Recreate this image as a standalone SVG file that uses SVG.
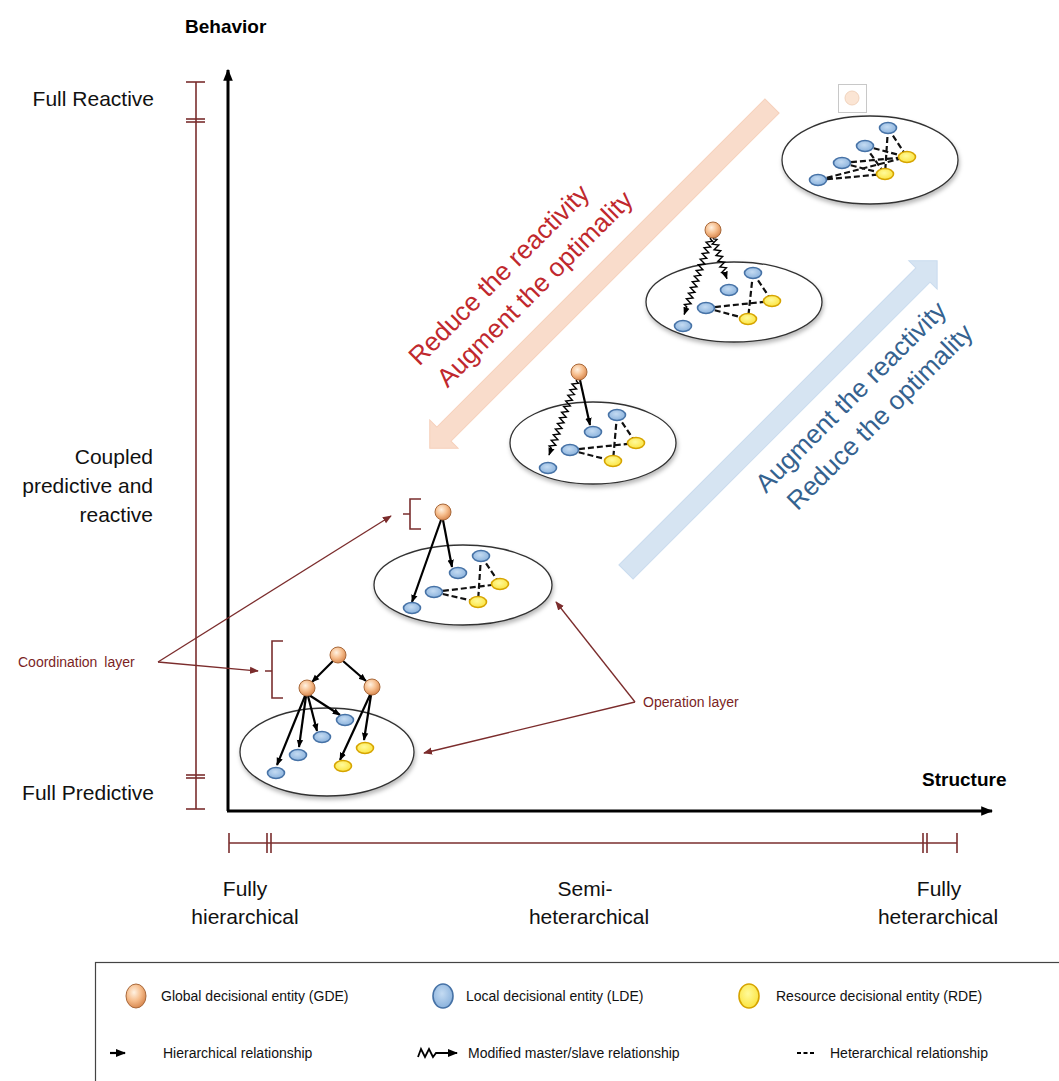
<svg xmlns="http://www.w3.org/2000/svg" width="1059" height="1081" viewBox="0 0 1059 1081">
<style>
.lbl{font-family:"Liberation Sans",Arial,sans-serif;font-size:21px;fill:#111}
.ax{font-family:"Liberation Sans",Arial,sans-serif;font-size:19px;font-weight:bold;fill:#000}
.ann{font-family:"Liberation Sans",Arial,sans-serif;font-size:14px;fill:#7b1f1f}
.leg{font-family:"Liberation Sans",Arial,sans-serif;font-size:14px;fill:#111}
.big{font-family:"Liberation Sans",Arial,sans-serif;font-size:26px}
.scale{stroke:#7a2e2e;stroke-width:1.6;fill:none}
.cont{fill:#fff;stroke:#333;stroke-width:1.3;filter:url(#sh)}
.gde{fill:url(#gGde);stroke:#a8683a;stroke-width:1}
.lde{fill:url(#gLde);stroke:#4672a6;stroke-width:1.6}
.rde{fill:url(#gRde);stroke:#d6a400;stroke-width:1.6}
.hier{stroke:#000;stroke-width:2.2;fill:none;marker-end:url(#ah)}
.wavy{stroke:#000;stroke-width:1.4;fill:none;marker-end:url(#ah)}
.het{stroke:#111;stroke-width:2.2;fill:none;stroke-dasharray:6 3}
.red{stroke:#7b2c2c;stroke-width:1.3;fill:none;marker-end:url(#rh)}
</style>
<defs>
<radialGradient id="gGde" cx="40%" cy="35%" r="65%"><stop offset="0" stop-color="#fff2e2"/><stop offset="0.55" stop-color="#f6bd8c"/><stop offset="1" stop-color="#d98a52"/></radialGradient>
<radialGradient id="gLde" cx="45%" cy="40%" r="65%"><stop offset="0" stop-color="#c4dbf2"/><stop offset="1" stop-color="#86afdb"/></radialGradient>
<radialGradient id="gRde" cx="45%" cy="40%" r="65%"><stop offset="0" stop-color="#fffa9a"/><stop offset="1" stop-color="#fbe23a"/></radialGradient>
<marker id="ah" viewBox="0 0 10 10" refX="9" refY="5" markerWidth="8" markerHeight="8" markerUnits="userSpaceOnUse" orient="auto"><path d="M0,1 L10,5 L0,9 z" fill="#000"/></marker>
<marker id="axh" viewBox="0 0 10 10" refX="9" refY="5" markerWidth="12" markerHeight="12" markerUnits="userSpaceOnUse" orient="auto"><path d="M0,1 L10,5 L0,9 z" fill="#000"/></marker>
<marker id="rh" viewBox="0 0 10 10" refX="9" refY="5" markerWidth="9" markerHeight="9" markerUnits="userSpaceOnUse" orient="auto"><path d="M0,1 L10,5 L0,9 z" fill="#7b2c2c"/></marker>
<marker id="lh" viewBox="0 0 10 10" refX="9" refY="5" markerWidth="10" markerHeight="10" markerUnits="userSpaceOnUse" orient="auto"><path d="M0,1 L10,5 L0,9 z" fill="#000"/></marker>
<filter id="sh" x="-10%" y="-10%" width="125%" height="140%"><feDropShadow dx="1" dy="3" stdDeviation="2" flood-color="#000" flood-opacity="0.28"/></filter>
</defs>
<rect width="1059" height="1081" fill="#fff"/>

<!-- big diagonal arrows -->
<g id="arrow-down">
<path transform="translate(772,106) rotate(135)" d="M0,-10 H464 V-20 L484,0 L464,20 V10 H0 Z" fill="#f9dccb" stroke="#f6d0bb" stroke-width="1"/>
</g>
<g id="arrow-up">
<path transform="translate(626,572) rotate(-45)" d="M0,-10 H420 V-20 L440,0 L420,20 V10 H0 Z" fill="#d6e4f2" stroke="#c9dbee" stroke-width="1"/>
</g>
<g id="arrow-texts" class="big">
<text transform="translate(505,281) rotate(-45)" text-anchor="middle" fill="#c0282d">Reduce the reactivity</text>
<text transform="translate(541,295) rotate(-45)" text-anchor="middle" fill="#c0282d">Augment the optimality</text>
<text transform="translate(857,403) rotate(-45)" text-anchor="middle" fill="#35628f">Augment the reactivity</text>
<text transform="translate(886,423) rotate(-45)" text-anchor="middle" fill="#35628f">Reduce the optimality</text>
</g>

<!-- axes -->
<g id="axes">
<line x1="228" y1="811" x2="228" y2="70" stroke="#000" stroke-width="3" marker-end="url(#axh)"/>
<line x1="227" y1="811" x2="992" y2="811" stroke="#000" stroke-width="3" marker-end="url(#axh)"/>
<text class="ax" x="185" y="33">Behavior</text>
<text class="ax" x="922" y="786">Structure</text>
</g>

<!-- scales -->
<g id="behavior-scale" class="scale">
<line x1="196" y1="82" x2="196" y2="809"/>
<line x1="186" y1="82" x2="205" y2="82"/>
<line x1="186" y1="119" x2="205" y2="119"/>
<line x1="186" y1="122" x2="205" y2="122"/>
<line x1="186" y1="775" x2="205" y2="775"/>
<line x1="186" y1="778" x2="205" y2="778"/>
<line x1="186" y1="809" x2="205" y2="809"/>
</g>
<g id="structure-scale" class="scale">
<line x1="229" y1="843" x2="957" y2="843"/>
<line x1="229" y1="833" x2="229" y2="853"/>
<line x1="267" y1="833" x2="267" y2="853"/>
<line x1="271" y1="833" x2="271" y2="853"/>
<line x1="923" y1="833" x2="923" y2="853"/>
<line x1="927" y1="833" x2="927" y2="853"/>
<line x1="957" y1="833" x2="957" y2="853"/>
</g>
<g id="behavior-labels" class="lbl" text-anchor="end">
<text x="154" y="106">Full Reactive</text>
<text x="153" y="464">Coupled</text>
<text x="153" y="493">predictive and</text>
<text x="153" y="522">reactive</text>
<text x="154" y="800">Full Predictive</text>
</g>
<g id="structure-labels" class="lbl" text-anchor="middle">
<text x="245" y="896">Fully</text>
<text x="245" y="924">hierarchical</text>
<text x="585" y="896">Semi-</text>
<text x="589" y="924">heterarchical</text>
<text x="939" y="896">Fully</text>
<text x="938" y="924">heterarchical</text>
</g>

<!-- containers (operation layer ellipses) -->
<g id="containers">
<ellipse id="cluster1" class="cont" cx="870" cy="160" rx="88" ry="44"/>
<ellipse id="cluster2" class="cont" cx="734" cy="302" rx="88" ry="40"/>
<ellipse id="cluster3" class="cont" cx="593" cy="443" rx="83" ry="41"/>
<ellipse id="cluster4" class="cont" cx="463" cy="585" rx="89" ry="40"/>
<ellipse id="cluster5" class="cont" cx="327" cy="752" rx="87" ry="44"/>
</g>

<!-- faded GDE in box -->
<g id="faded-gde">
<rect x="838.5" y="84.5" width="28" height="28" fill="#fff" stroke="#c8c8c8" stroke-width="1"/>
<circle cx="852" cy="98" r="7" fill="#fbe5d4" stroke="#f1d3bd" stroke-width="1"/>
</g>

<!-- brackets -->
<g id="brackets" class="scale">
<path d="M421,499 H410 V529 H421 M403,514 H410"/>
<path d="M283,641 H272 V698 H283 M265,671 H272"/>
</g>

<!-- connectors -->
<g id="connectors">
<path class="het" d="M888,128 L907,157 M888,128 L885,174 M865,146 L907,157 M865,146 L885,174 M842,163 L907,157 M842,163 L885,174 M818,180 L907,157 M818,180 L885,174"/>
<path class="het" d="M753,273 L772,301 M753,273 L748,319 M706,308 L772,301 M706,308 L748,319"/>
<path class="wavy" transform="translate(713,237) rotate(71.6)" d="M0,0 h2 l1.5,-3 l3,6 l1.5,-3 l1.5,-3 l3,6 l1.5,-3 l1.5,-3 l3,6 l1.5,-3 l1.5,-3 l3,6 l1.5,-3 l1.5,-3 l3,6 l1.5,-3 l1.5,-3 l3,6 l1.5,-3 H44"/>
<path class="wavy" transform="translate(711,237) rotate(109.1)" d="M0,0 h2 l1.5,-3 l3,6 l1.5,-3 l1.5,-3 l3,6 l1.5,-3 l1.5,-3 l3,6 l1.5,-3 l1.5,-3 l3,6 l1.5,-3 l1.5,-3 l3,6 l1.5,-3 l1.5,-3 l3,6 l1.5,-3 l1.5,-3 l3,6 l1.5,-3 l1.5,-3 l3,6 l1.5,-3 l1.5,-3 l3,6 l1.5,-3 l1.5,-3 l3,6 l1.5,-3 l1.5,-3 l3,6 l1.5,-3 l1.5,-3 l3,6 l1.5,-3 H82"/>
<path class="het" d="M617,415 L636,443 M617,415 L613,461 M570,450 L636,443 M570,450 L613,461"/>
<path class="hier" d="M580,380 L590,425"/>
<path class="wavy" transform="translate(577,379) rotate(110.2)" d="M0,0 h2 l1.5,-3 l3,6 l1.5,-3 l1.5,-3 l3,6 l1.5,-3 l1.5,-3 l3,6 l1.5,-3 l1.5,-3 l3,6 l1.5,-3 l1.5,-3 l3,6 l1.5,-3 l1.5,-3 l3,6 l1.5,-3 l1.5,-3 l3,6 l1.5,-3 l1.5,-3 l3,6 l1.5,-3 l1.5,-3 l3,6 l1.5,-3 l1.5,-3 l3,6 l1.5,-3 l1.5,-3 l3,6 l1.5,-3 l1.5,-3 l3,6 l1.5,-3 H81"/>
<path class="het" d="M481,556 L500,584 M481,556 L478,602 M434,592 L500,584 M434,592 L478,602"/>
<path class="hier" d="M443,520 L452,567"/>
<path class="hier" d="M441,520 L412,602"/>
<path class="hier" d="M333,661 L312,682"/>
<path class="hier" d="M343,661 L366,681"/>
<path class="hier" d="M309,695 L340,715"/>
<path class="hier" d="M308,696 L317,731"/>
<path class="hier" d="M306,696 L299,747"/>
<path class="hier" d="M305,696 L277,765"/>
<path class="hier" d="M371,695 L364,740"/>
<path class="hier" d="M370,695 L340,760"/>
<path class="red" d="M158,662 L391,516"/>
<path class="red" d="M158,662 L258,671"/>
<path class="red" d="M635,702 L556,602"/>
<path class="red" d="M635,702 L424,753"/>
</g>

<!-- nodes -->
<g id="c1-nodes">
<g id="c1-lde1"><ellipse class="lde" cx="888" cy="128" rx="8.5" ry="5.5"/></g>
<g id="c1-lde2"><ellipse class="lde" cx="865" cy="146" rx="8.5" ry="5.5"/></g>
<g id="c1-lde3"><ellipse class="lde" cx="842" cy="163" rx="8.5" ry="5.5"/></g>
<g id="c1-lde4"><ellipse class="lde" cx="818" cy="180" rx="8.5" ry="5.5"/></g>
<g id="c1-rde1"><ellipse class="rde" cx="907" cy="157" rx="8.5" ry="5.5"/></g>
<g id="c1-rde2"><ellipse class="rde" cx="885" cy="174" rx="8.5" ry="5.5"/></g>
</g>
<g id="c2-nodes">
<g id="c2-gde"><circle class="gde" cx="713" cy="230" r="8"/></g>
<g id="c2-lde1"><ellipse class="lde" cx="753" cy="273" rx="8.5" ry="5.5"/></g>
<g id="c2-lde2"><ellipse class="lde" cx="729" cy="290" rx="8.5" ry="5.5"/></g>
<g id="c2-lde3"><ellipse class="lde" cx="706" cy="308" rx="8.5" ry="5.5"/></g>
<g id="c2-lde4"><ellipse class="lde" cx="683" cy="326" rx="8.5" ry="5.5"/></g>
<g id="c2-rde1"><ellipse class="rde" cx="772" cy="301" rx="8.5" ry="5.5"/></g>
<g id="c2-rde2"><ellipse class="rde" cx="748" cy="319" rx="8.5" ry="5.5"/></g>
</g>
<g id="c3-nodes">
<g id="c3-gde"><circle class="gde" cx="579" cy="372" r="8"/></g>
<g id="c3-lde1"><ellipse class="lde" cx="617" cy="415" rx="8.5" ry="5.5"/></g>
<g id="c3-lde2"><ellipse class="lde" cx="593" cy="432" rx="8.5" ry="5.5"/></g>
<g id="c3-lde3"><ellipse class="lde" cx="570" cy="450" rx="8.5" ry="5.5"/></g>
<g id="c3-lde4"><ellipse class="lde" cx="548" cy="468" rx="8.5" ry="5.5"/></g>
<g id="c3-rde1"><ellipse class="rde" cx="636" cy="443" rx="8.5" ry="5.5"/></g>
<g id="c3-rde2"><ellipse class="rde" cx="613" cy="461" rx="8.5" ry="5.5"/></g>
</g>
<g id="c4-nodes">
<g id="c4-gde"><circle class="gde" cx="443" cy="512" r="8"/></g>
<g id="c4-lde1"><ellipse class="lde" cx="481" cy="556" rx="8.5" ry="5.5"/></g>
<g id="c4-lde2"><ellipse class="lde" cx="458" cy="573" rx="8.5" ry="5.5"/></g>
<g id="c4-lde3"><ellipse class="lde" cx="434" cy="592" rx="8.5" ry="5.5"/></g>
<g id="c4-lde4"><ellipse class="lde" cx="412" cy="608" rx="8.5" ry="5.5"/></g>
<g id="c4-rde1"><ellipse class="rde" cx="500" cy="584" rx="8.5" ry="5.5"/></g>
<g id="c4-rde2"><ellipse class="rde" cx="478" cy="602" rx="8.5" ry="5.5"/></g>
</g>
<g id="c5-nodes">
<g id="c5-gde-top"><circle class="gde" cx="338" cy="655" r="8"/></g>
<g id="c5-gde-left"><circle class="gde" cx="307" cy="688" r="8"/></g>
<g id="c5-gde-right"><circle class="gde" cx="372" cy="687" r="8"/></g>
<g id="c5-lde1"><ellipse class="lde" cx="345" cy="720" rx="8.5" ry="5.5"/></g>
<g id="c5-lde2"><ellipse class="lde" cx="322" cy="737" rx="8.5" ry="5.5"/></g>
<g id="c5-lde3"><ellipse class="lde" cx="298" cy="755" rx="8.5" ry="5.5"/></g>
<g id="c5-lde4"><ellipse class="lde" cx="276" cy="773" rx="8.5" ry="5.5"/></g>
<g id="c5-rde1"><ellipse class="rde" cx="365" cy="748" rx="8.5" ry="5.5"/></g>
<g id="c5-rde2"><ellipse class="rde" cx="343" cy="766" rx="8.5" ry="5.5"/></g>
</g>

<!-- annotation labels -->
<g id="annotations" class="ann">
<text x="18" y="667" word-spacing="3">Coordination layer</text>
<text x="643" y="707">Operation layer</text>
</g>

<!-- legend -->
<g id="legend">
<rect x="95.5" y="962.5" width="1000" height="200" fill="#fff" stroke="#444" stroke-width="1.2"/>
<ellipse class="gde" cx="136" cy="996" rx="10" ry="12"/>
<text class="leg" x="161" y="1001">Global decisional entity (GDE)</text>
<ellipse class="lde" cx="443" cy="996" rx="10" ry="12" stroke-width="1"/>
<text class="leg" x="466" y="1001">Local decisional entity (LDE)</text>
<ellipse class="rde" cx="749" cy="996" rx="10" ry="12" stroke-width="1"/>
<text class="leg" x="776" y="1001">Resource decisional entity (RDE)</text>
<path d="M110,1053 H125" stroke="#000" stroke-width="2.2" marker-end="url(#lh)"/>
<text class="leg" x="163" y="1058">Hierarchical relationship</text>
<path d="M418,1057 L421,1049 L425,1057 L429,1049 L433,1057 L436,1053 H457" stroke="#000" stroke-width="1.8" fill="none" marker-end="url(#lh)"/>
<text class="leg" x="468" y="1058">Modified master/slave relationship</text>
<path d="M797,1053 H814" stroke="#000" stroke-width="2" stroke-dasharray="4 2.5"/>
<text class="leg" x="830" y="1058">Heterarchical relationship</text>
</g>
</svg>
